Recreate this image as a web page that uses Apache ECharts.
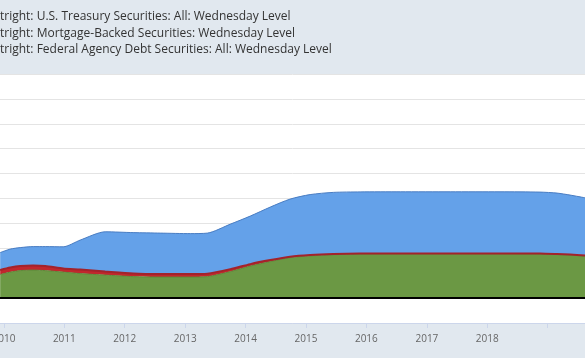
<!DOCTYPE html>
<html>
<head>
<meta charset="utf-8">
<script src="https://cdn.jsdelivr.net/npm/echarts@6/dist/echarts.min.js"></script>
<style>
html,body{margin:0;padding:0;background:#e1e8ef;}
#chart{width:585px;height:358px;}
</style>
</head>
<body>
<div id="chart"></div>
<script>
// Weekly observation dates (sampled), values in millions of dollars
const dates = ['2009-12-09','2010-02-08','2010-04-09','2010-06-27','2010-09-08','2010-12-25',
  '2011-04-07','2011-09-05','2012-02-21','2012-08-03','2013-02-01','2013-05-15','2013-10-01',
  '2014-01-29','2014-05-30','2014-09-27','2015-01-26','2015-06-15','2015-11-24','2016-07-24',
  '2017-05-22','2018-03-19','2018-11-16','2019-02-27','2019-05-17','2019-08-15'];
const treasury = [703000,743000,743000,763000,783000,867000,1185000,1598000,1647000,1647000,1627000,1627000,1807000,
  1928000,2129000,2317000,2430000,2478000,2478000,2474000,2474000,2474000,2470000,2450000,2390000,2313000];
const mbs = [944000,1044000,1104000,1124000,1104000,1044000,984000,924000,863000,843000,843000,863000,1064000,
  1285000,1466000,1627000,1695000,1743000,1767000,1775000,1775000,1775000,1767000,1747000,1727000,1687000];
const agency = [181000,181000,181000,181000,181000,149000,161000,141000,120000,120000,120000,120000,100000,
  80000,60000,32000,32000,24000,20000,20000,20000,20000,20000,20000,20000,28000];
const yearLabels = ['2010','2011','2012','2013','2014','2015','2016','2017','2018'];

const nameT = 'Assets: Securities Held Outright: U.S. Treasury Securities: All: Wednesday Level';
const nameM = 'Assets: Securities Held Outright: Mortgage-Backed Securities: Wednesday Level';
const nameA = 'Assets: Securities Held Outright: Federal Agency Debt Securities: All: Wednesday Level';

const legendFont = 12;
const cv = document.createElement('canvas').getContext('2d');
cv.font = legendFont + 'px "Open Sans"';
const prefixW = cv.measureText('Assets: Securities Held Ou').width;
const iconW = 20;

const pair = arr => dates.map((d, i) => [d, arr[i]]);
const YEAR = 365 * 24 * 3600 * 1000;

const chart = echarts.init(document.getElementById('chart'));
chart.setOption({
  animation: false,
  backgroundColor: '#e1e8ef',
  textStyle: {fontFamily: '"Open Sans", sans-serif'},
  legend: {
    orient: 'vertical',
    left: -(iconW + 5 + prefixW),
    top: 9,
    padding: 0,
    itemGap: 0.3,
    itemWidth: iconW,
    itemHeight: 10,
    icon: 'rect',
    data: [nameT, nameM, nameA],
    textStyle: {color: '#333', fontSize: legendFont, lineHeight: 16},
    selectedMode: false
  },
  grid: {left: 0, right: 0, top: 74, bottom: 35, show: true, backgroundColor: '#ffffff',
    borderWidth: 0, outerBoundsMode: 'none', containLabel: false},
  xAxis: {
    type: 'time',
    min: '2009-12-08',
    max: '2019-08-15',
    minInterval: YEAR,
    maxInterval: YEAR * 1.01,
    axisLine: {show: true, onZero: false, lineStyle: {color: '#ccd6eb', width: 1}},
    axisTick: {show: true, length: 5, lineStyle: {color: '#ccd6eb'}},
    axisLabel: {color: '#666', fontSize: 10, margin: 11, showMinLabel: false, showMaxLabel: false,
      formatter: v => {
        const y = String(new Date(v).getFullYear());
        return yearLabels.indexOf(y) >= 0 ? y : '';
      }},
    splitLine: {show: false}
  },
  yAxis: {
    type: 'value',
    min: -1000000,
    max: 9000000,
    interval: 1000000,
    axisLabel: {show: false},
    axisLine: {show: false},
    axisTick: {show: false},
    splitLine: {lineStyle: {color: '#e4e4e4', width: 1}}
  },
  series: [
    {name: nameM, type: 'line', stack: 'total', data: pair(mbs), symbol: 'none', smooth: 0.25,
      lineStyle: {color: '#5f8a3b', width: 1}, itemStyle: {color: '#6b9844'},
      areaStyle: {color: '#6b9844', opacity: 1},
      markLine: {silent: true, symbol: 'none', label: {show: false},
        lineStyle: {color: '#000', width: 2, type: 'solid'}, data: [{yAxis: 0}]}},
    {name: nameA, type: 'line', stack: 'total', data: pair(agency), symbol: 'none', smooth: 0.25,
      lineStyle: {color: '#a3232b', width: 2}, itemStyle: {color: '#c1272d'},
      areaStyle: {color: '#c1272d', opacity: 1}},
    {name: nameT, type: 'line', stack: 'total', data: pair(treasury), symbol: 'none', smooth: 0.25,
      lineStyle: {color: '#4a7dc2', width: 1}, itemStyle: {color: '#64a1e9'},
      areaStyle: {color: '#64a1e9', opacity: 1}}
  ]
});
</script>
</body>
</html>
